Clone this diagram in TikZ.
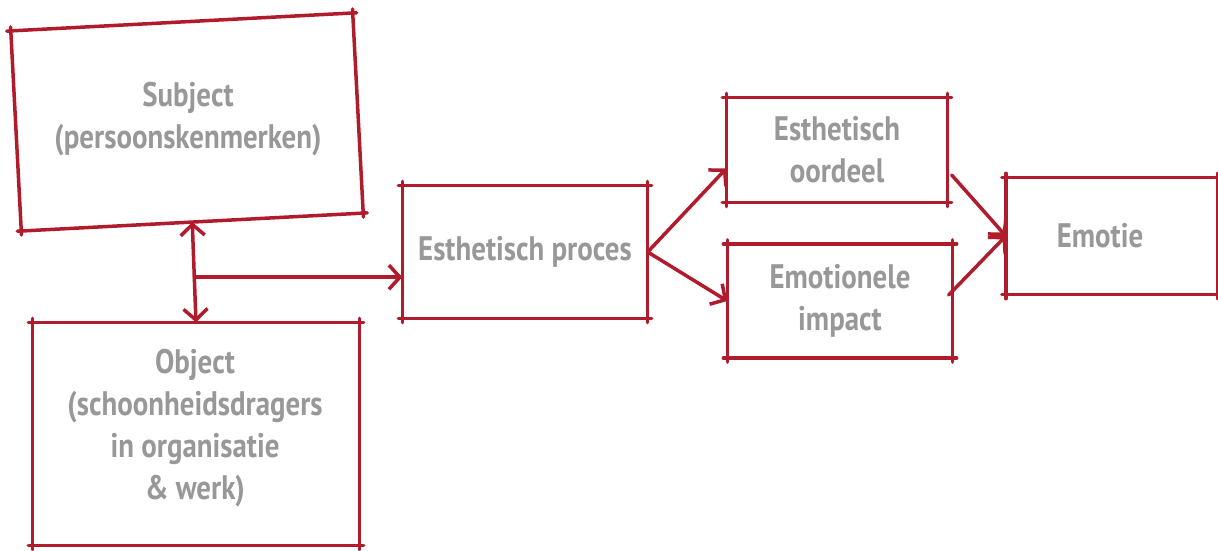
\documentclass[tikz,border=0pt]{standalone}
\usepackage{fontspec}
\setmainfont{PT Sans}
\newfontfamily\hand[FakeStretch=0.85]{PT Sans}
\usetikzlibrary{arrows.meta,calc}
\definecolor{boxred}{RGB}{176,28,44}
\definecolor{txtgray}{RGB}{152,152,152}
\tikzset{
  box/.style={draw=none, rectangle, inner sep=0pt},
  lbl/.style={text=txtgray, font=\hand\bfseries\fontsize{34}{42}\selectfont, align=center},
  side/.style={draw=boxred, line width=3.5pt, line cap=round, shorten <=-4pt, shorten >=-4pt},
  conn/.style={draw=boxred, line width=3.5pt, line cap=round, -{Straight Barb[length=11pt,width=24pt]}},
  dconn/.style={draw=boxred, line width=3.5pt, line cap=round, {Straight Barb[length=11pt,width=24pt]}-{Straight Barb[length=11pt,width=24pt]}}
}
\newcommand\skbox[1]{%
  \draw[side] (#1.north west) -- (#1.north east);
  \draw[side] (#1.north east) -- (#1.south east);
  \draw[side] (#1.south east) -- (#1.south west);
  \draw[side] (#1.south west) -- (#1.north west);}
\begin{document}
\begin{tikzpicture}[x=1pt,y=-1pt]
\path[use as bounding box, fill=white] (0,0) rectangle (1218,551);
% boxes
\node[box, minimum width=342pt, minimum height=200pt, rotate=3] (subj) at (187,122) {};
\node[lbl] (subjt) at (188,119) {Subject\\(persoonskenmerken)};
\node[box, minimum width=327pt, minimum height=223pt] (obj) at (196,434) {};
\node[lbl] (objt) at (195,428) {Object\\(schoonheidsdragers\\in organisatie\\\& werk)};
\node[box, lbl, minimum width=245pt, minimum height=133pt] (proc) at (525,252) {Esthetisch proces};
\node[box, lbl, minimum width=221pt, minimum height=105pt] (oord) at (837,150) {Esthetisch\\oordeel};
\node[box, lbl, minimum width=225pt, minimum height=114pt] (imp) at (840,301) {Emotionele\\impact};
\node[box, minimum width=212pt, minimum height=117pt] (emo) at (1112,236) {};
\node[lbl] (emot) at (1100,236) {Emotie};
\skbox{subj}
\skbox{obj}
\skbox{proc}
\skbox{oord}
\skbox{imp}
\skbox{emo}
% connectors
\coordinate (j) at ($(subj.south)!0.55!(obj.north)$);
\draw[dconn] (subj.south) -- (obj.north);
\draw[conn] (j) -- (j -| proc.west);
\draw[conn] (proc.east) -- ($(oord.west)!0.35!(oord.south west)$);
\draw[conn] (proc.east) -- (imp.west);
\draw[conn] ($(oord.east)+(4,25)$) -- (emo.west);
\draw[conn] ($(imp.east)+(-4,-6)$) -- (emo.west);
\end{tikzpicture}
\end{document}
